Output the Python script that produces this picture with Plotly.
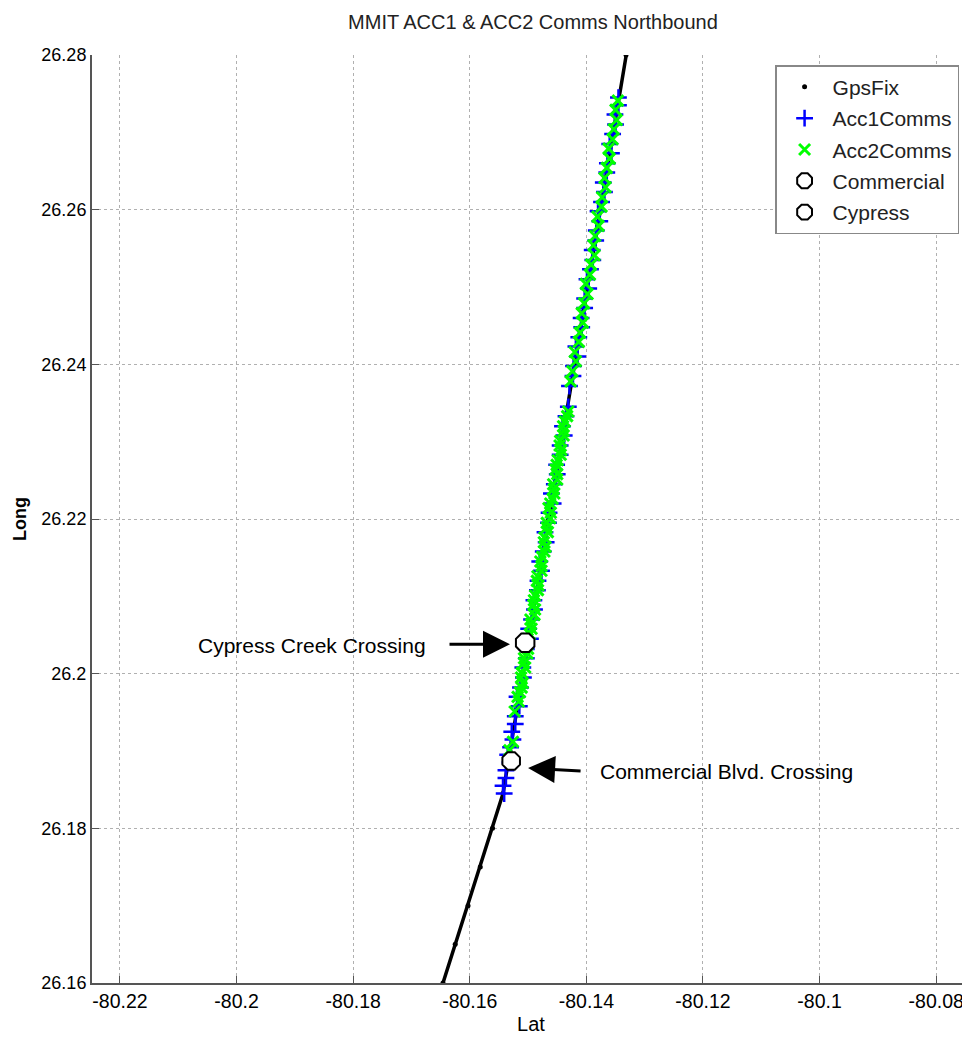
import plotly.graph_objects as go

# ---------------- data ----------------
gps_lon = [-80.1646, -80.1625, -80.1603, -80.1582, -80.1561, -80.1543, -80.1531,
           -80.1509, -80.1487, -80.1465, -80.1442, -80.1420, -80.1398, -80.1376,
           -80.1354, -80.1332, -80.1325]
gps_lat = [26.160, 26.165, 26.170, 26.175, 26.180, 26.1845, 26.190,
           26.200, 26.210, 26.220, 26.230, 26.240, 26.250, 26.260,
           26.270, 26.280, 26.283]

acc1_lat = [26.1845, 26.1855, 26.1865, 26.1875, 26.1885, 26.1895, 26.1905, 26.1915,
            26.1925, 26.1935, 26.1945, 26.1958, 26.1970, 26.1982, 26.1995, 26.2008,
            26.2020, 26.2032, 26.2045, 26.2058, 26.2070, 26.2083, 26.2095, 26.2108,
            26.2120, 26.2133, 26.2145, 26.2158, 26.2170, 26.2183, 26.2195, 26.2208,
            26.2220, 26.2233, 26.2245, 26.2258, 26.2270, 26.2283, 26.2295, 26.2308,
            26.2320, 26.2333, 26.2345, 26.2372, 26.2385, 26.2398, 26.2410, 26.2423,
            26.2435, 26.2448, 26.2460, 26.2473, 26.2485, 26.2498, 26.2510, 26.2523,
            26.2535, 26.2548, 26.2560, 26.2573, 26.2585, 26.2598, 26.2610, 26.2623,
            26.2635, 26.2648, 26.2660, 26.2673, 26.2685, 26.2698, 26.2710, 26.2723,
            26.2735, 26.2745]
acc1_lon = [-80.1541, -80.1543, -80.1538, -80.1538, -80.1531, -80.1535, -80.1530, -80.1526,
            -80.1528, -80.1522, -80.1522, -80.1515, -80.1519, -80.1513, -80.1508, -80.1509,
            -80.1503, -80.1503, -80.1496, -80.1499, -80.1494, -80.1489, -80.1490, -80.1484,
            -80.1483, -80.1477, -80.1480, -80.1474, -80.1469, -80.1471, -80.1465, -80.1464,
            -80.1457, -80.1460, -80.1455, -80.1450, -80.1451, -80.1445, -80.1445, -80.1438,
            -80.1441, -80.1435, -80.1431, -80.1429, -80.1423, -80.1422, -80.1415, -80.1418,
            -80.1413, -80.1408, -80.1409, -80.1403, -80.1403, -80.1396, -80.1399, -80.1393,
            -80.1389, -80.1390, -80.1384, -80.1383, -80.1377, -80.1380, -80.1374, -80.1369,
            -80.1371, -80.1365, -80.1364, -80.1357, -80.1360, -80.1355, -80.1350, -80.1351,
            -80.1345, -80.1345]

acc2_lat = [26.1901, 26.1912, 26.1951, 26.1964, 26.1976, 26.1988, 26.2001, 26.2014,
            26.2026, 26.2038, 26.2051, 26.2064, 26.2076, 26.2089, 26.2101, 26.2114,
            26.2126, 26.2139, 26.2151, 26.2164, 26.2176, 26.2189, 26.2201, 26.2214,
            26.2226, 26.2239, 26.2251, 26.2264, 26.2276, 26.2289, 26.2301, 26.2314,
            26.2326, 26.2339, 26.2378, 26.2391, 26.2404, 26.2416, 26.2429, 26.2441,
            26.2454, 26.2466, 26.2479, 26.2491, 26.2504, 26.2516, 26.2529, 26.2541,
            26.2554, 26.2566, 26.2579, 26.2591, 26.2604, 26.2616, 26.2629, 26.2641,
            26.2654, 26.2666, 26.2679, 26.2691, 26.2704, 26.2716, 26.2729, 26.2741,
            26.1970, 26.1982, 26.1995, 26.2008, 26.2020, 26.2032, 26.2045, 26.2058,
            26.2070, 26.2083, 26.2095, 26.2108, 26.2120, 26.2133, 26.2145, 26.2158,
            26.2170, 26.2183, 26.2195, 26.2208, 26.2220, 26.2233, 26.2245, 26.2258,
            26.2270, 26.2283, 26.2295, 26.2308, 26.2320, 26.2333]
acc2_lon = [-80.1532, -80.1526, -80.1523, -80.1516, -80.1514, -80.1509, -80.1511, -80.1507,
            -80.1501, -80.1504, -80.1497, -80.1495, -80.1489, -80.1491, -80.1488, -80.1482,
            -80.1484, -80.1477, -80.1476, -80.1470, -80.1472, -80.1468, -80.1462, -80.1465,
            -80.1458, -80.1456, -80.1450, -80.1453, -80.1449, -80.1443, -80.1445, -80.1439,
            -80.1437, -80.1431, -80.1427, -80.1424, -80.1418, -80.1420, -80.1413, -80.1411,
            -80.1406, -80.1408, -80.1404, -80.1398, -80.1401, -80.1394, -80.1392, -80.1386,
            -80.1388, -80.1385, -80.1379, -80.1381, -80.1374, -80.1373, -80.1367, -80.1369,
            -80.1365, -80.1360, -80.1362, -80.1355, -80.1353, -80.1348, -80.1350, -80.1346,
            -80.1518, -80.1511, -80.1512, -80.1505, -80.1507, -80.1500, -80.1501, -80.1494,
            -80.1496, -80.1488, -80.1490, -80.1483, -80.1485, -80.1477, -80.1479, -80.1472,
            -80.1473, -80.1466, -80.1468, -80.1461, -80.1462, -80.1455, -80.1457, -80.1450,
            -80.1451, -80.1444, -80.1446, -80.1439, -80.1440, -80.1433]

commercial_lon = [-80.1529]
commercial_lat = [26.1887]
cypress_lon = [-80.1505]
cypress_lat = [26.2040]

x_tickvals = [-80.22, -80.20, -80.18, -80.16, -80.14, -80.12, -80.10, -80.08]
x_ticktext = ["-80.22", "-80.2", "-80.18", "-80.16", "-80.14", "-80.12", "-80.1", "-80.08"]
y_tickvals = [26.16, 26.18, 26.20, 26.22, 26.24, 26.26, 26.28]
y_ticktext = ["26.16", "26.18", "26.2", "26.22", "26.24", "26.26", "26.28"]

FONT = "Liberation Sans, Arial, sans-serif"

fig = go.Figure()
fig.add_trace(go.Scatter(x=gps_lon, y=gps_lat, mode="lines",
                         line=dict(color="black", width=3.5), showlegend=False,
                         hoverinfo="skip"))
fig.add_trace(go.Scatter(x=gps_lon, y=gps_lat, mode="markers", name="GpsFix",
                         legendgroup="g1",
                         marker=dict(color="black", size=5, symbol="circle")))
fig.add_trace(go.Scatter(x=acc1_lon, y=acc1_lat, mode="markers", name="Acc1Comms",
                         legendgroup="g2",
                         marker=dict(symbol="cross-thin", size=12, color="#0000ff",
                                     line=dict(color="#0000ff", width=2.5))))
fig.add_trace(go.Scatter(x=acc2_lon, y=acc2_lat, mode="markers", name="Acc2Comms",
                         legendgroup="g3",
                         marker=dict(symbol="x-thin", size=11, color="#00ff00",
                                     line=dict(color="#00ff00", width=3))))
fig.add_trace(go.Scatter(x=commercial_lon, y=commercial_lat, mode="markers", name="Commercial",
                         legendgroup="g4",
                         marker=dict(symbol="octagon", size=19, color="white",
                                     line=dict(color="black", width=2))))
fig.add_trace(go.Scatter(x=cypress_lon, y=cypress_lat, mode="markers", name="Cypress",
                         legendgroup="g5",
                         marker=dict(symbol="octagon", size=20, color="white",
                                     line=dict(color="black", width=2))))

# annotations
fig.add_annotation(x=-80.1531, y=26.2038, ax=-62, ay=0, text="", showarrow=True,
                   arrowhead=2, arrowsize=1.8, arrowwidth=3, arrowcolor="black")
fig.add_annotation(x=-80.1500, y=26.1878, ax=54, ay=3, text="", showarrow=True,
                   arrowhead=2, arrowsize=1.8, arrowwidth=3, arrowcolor="black")
fig.add_annotation(x=-80.1672, y=26.2037, text="Cypress Creek Crossing", showarrow=False,
                   xanchor="right", yanchor="middle",
                   font=dict(family=FONT, size=21, color="black"))
fig.add_annotation(x=-80.1380, y=26.1874, text="Commercial Blvd. Crossing", showarrow=False,
                   xanchor="left", yanchor="middle",
                   font=dict(family=FONT, size=21, color="black"))

# the page body has an 8px margin, so the figure is sized/offset to compensate
fig.update_layout(
    width=962, height=1037,
    margin=dict(l=84, r=0, t=47, b=62, autoexpand=False),
    paper_bgcolor="white", plot_bgcolor="white",
    font=dict(family=FONT, size=18, color="black"),
    title=dict(text="MMIT ACC1 & ACC2 Comms Northbound", x=0.5457, xanchor="center",
               y=0.9865, yanchor="middle", font=dict(family=FONT, size=20, color="#222")),
    legend=dict(x=0.778, y=0.989, xanchor="left", yanchor="top",
                bgcolor="white", bordercolor="#888", borderwidth=1.5,
                font=dict(family=FONT, size=21, color="#222"),
                tracegroupgap=1, itemsizing="trace", itemwidth=46),
    showlegend=True,
)
fig.update_xaxes(range=[-80.2248, -80.0742], tickvals=x_tickvals, ticktext=x_ticktext,
                 automargin=False, tickfont=dict(size=19.5), ticklabeloverflow="allow",
                 showgrid=True, gridcolor="#b0b0b0", griddash="dot", gridwidth=1,
                 showline=True, linecolor="#555", linewidth=2, mirror=False,
                 ticks="inside", ticklen=7, tickcolor="#555", zeroline=False,
                 title=dict(text="Lat", font=dict(size=20), standoff=6))
fig.update_yaxes(range=[26.16, 26.28], tickvals=y_tickvals, ticktext=y_ticktext,
                 automargin=False,
                 showgrid=True, gridcolor="#b0b0b0", griddash="dot", gridwidth=1,
                 showline=True, linecolor="#555", linewidth=2, mirror=False,
                 ticks="inside", ticklen=7, tickcolor="#555", zeroline=False,
                 title=dict(text="<b>Long</b>", font=dict(size=18), standoff=10))

fig.write_html("out.html")
